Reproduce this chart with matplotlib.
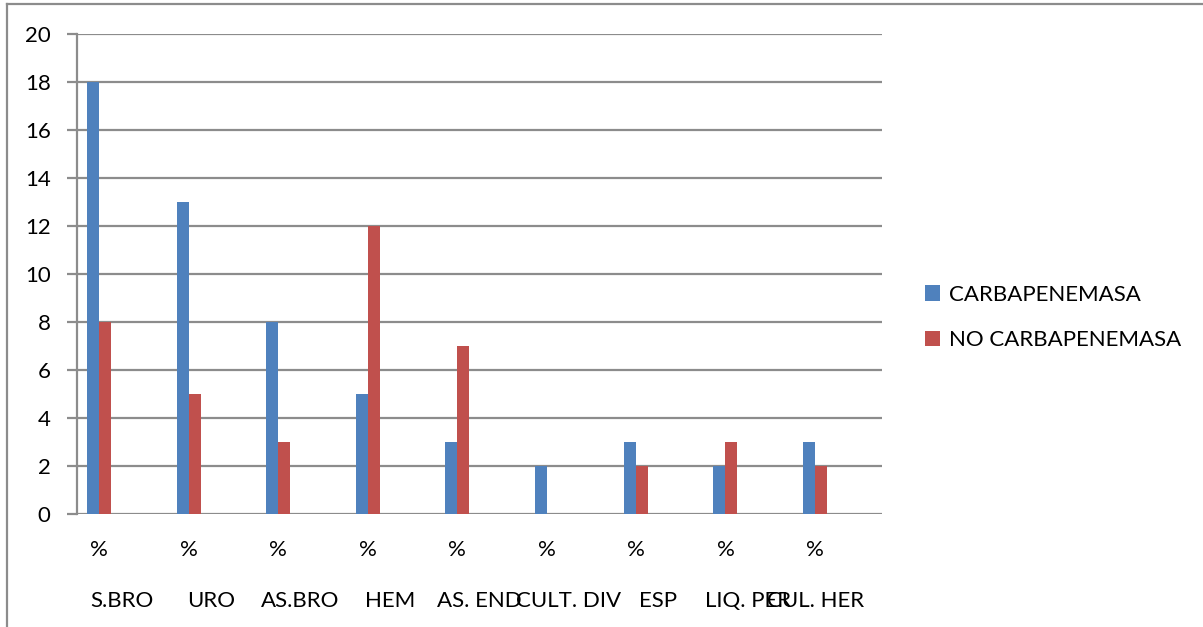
import numpy as np
import matplotlib.pyplot as plt
from matplotlib.lines import Line2D

plt.rcParams['font.family'] = ['Lato', 'DejaVu Sans']

muestras = ['S.BRO', 'URO', 'AS.BRO', 'HEM', 'AS. END', 'CULT. DIV', 'ESP', 'LIQ. PER', 'CUL. HER']
sub_labels = ['%'] * len(muestras)
carbapenemasa = [18, 13, 8, 5, 3, 2, 3, 2, 3]
no_carbapenemasa = [8, 5, 3, 12, 7, 0, 2, 3, 2]
series_names = ['CARBAPENEMASA', 'NO CARBAPENEMASA']
yticks = [0, 2, 4, 6, 8, 10, 12, 14, 16, 18, 20]

azul = '#4F81BD'
rojo = '#C0504D'
gris = '#8C8C8C'
fs = 16

W, H = 1203, 627
fig = plt.figure(figsize=(W / 100, H / 100), dpi=100)
ax = fig.add_axes([77 / W, 1 - 514 / H, (882 - 77) / W, (514 - 34) / H])

x = np.arange(len(muestras))
bw = 0.134
ax.bar(x - bw / 2, carbapenemasa, bw, color=azul, label=series_names[0], zorder=3)
ax.bar(x + bw / 2, no_carbapenemasa, bw, color=rojo, label=series_names[1], zorder=3)

ax.set_xlim(-0.25, len(muestras) - 0.25)
ax.set_ylim(0, 20)
ax.set_yticks(yticks)
ax.yaxis.grid(True, color=gris, linewidth=1.6, zorder=0)
ax.tick_params(axis='y', length=7, width=1.6, color=gris, labelsize=fs, pad=12)

# first level: "%" under each cluster
ax.set_xticks(x)
ax.set_xticklabels(sub_labels, fontsize=fs)
ax.tick_params(axis='x', length=0, pad=19)

# second level: sample type, centred on the two-slot span
# (the last one is pulled in so it ends inside the plot width)
for i, nombre in enumerate(muestras):
    if i == len(muestras) - 1:
        ax.text(len(muestras) - 0.45, -0.181, nombre, transform=ax.get_xaxis_transform(),
                ha='right', va='center', fontsize=fs)
    else:
        ax.text(i + 0.25, -0.181, nombre, transform=ax.get_xaxis_transform(),
                ha='center', va='center', fontsize=fs)

for s in ['top', 'right', 'bottom']:
    ax.spines[s].set_visible(False)
ax.spines['left'].set_color(gris)
ax.spines['left'].set_linewidth(1.6)

fig.legend(loc='center left', bbox_to_anchor=(925 / W, 1 - 317.5 / H),
           frameon=False, fontsize=fs, handlelength=0.68, handleheight=0.68,
           handletextpad=0.38, labelspacing=1.15, borderpad=0, borderaxespad=0)

# chart area border (top and left edges)
fig.add_artist(Line2D([7 / W, 7 / W], [0, 1 - 4 / H], color=gris, linewidth=1.6))
fig.add_artist(Line2D([7 / W, 1], [1 - 4 / H, 1 - 4 / H], color=gris, linewidth=1.6))

fig.savefig('out.png', dpi=100)
